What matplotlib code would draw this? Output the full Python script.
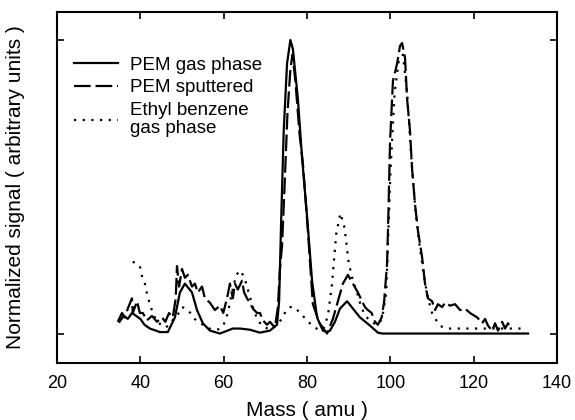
import numpy as np
import matplotlib
matplotlib.use("Agg")
import matplotlib.pyplot as plt

plt.rcParams['font.family'] = ['Liberation Sans', 'DejaVu Sans']

# PEM gas phase (solid)
gas_x = [35, 36, 37, 38, 39, 40, 41, 42.3, 44.7, 46.6, 48.3, 49.5, 50.7, 52.4, 53.6, 55, 56.7,
         59.1, 62.2, 63.9, 66.3, 68.7, 71.1, 72.8, 73.3, 73.8, 74.4, 75.2, 76, 76.6, 77.8, 78.8,
         80, 81.2, 82.4, 83.8, 84.8, 85.5, 86.7, 87.9, 89.6, 91, 92.7, 95.1, 97, 98, 133]
gas_y = [0.04, 0.06, 0.05, 0.07, 0.06, 0.05, 0.03, 0.017, 0.005, 0.005, 0.055, 0.14, 0.17, 0.14, 0.08, 0.035, 0.01,
         0.0, 0.017, 0.017, 0.013, 0.003, 0.01, 0.03, 0.11, 0.39, 0.69, 0.92, 1.0, 0.97, 0.8, 0.6,
         0.4, 0.18, 0.055, 0.01, 0.005, 0.01, 0.04, 0.085, 0.11, 0.085, 0.055, 0.027, 0.003, 0.0, 0.0]

# PEM sputtered (dashed)
sput_x = [34.6, 35.6, 36.3, 37, 38, 38.2, 39.2, 39.9, 40.6, 41.6, 42.8, 44, 45.2, 46, 46.9, 47.8,
          48.5, 48.8, 49.3, 50, 50.7, 51.4, 52.4, 53.1, 53.8, 54.8, 55.5, 56.7, 57.9, 59.1, 59.9,
          60.8, 61.5, 62.2, 62.7, 63.4, 64.4, 64.9, 65.6, 66.3, 67, 68, 68.7, 69.4, 70.4, 71.1,
          72.3, 73, 73.5, 74, 74.6, 75.3, 76, 76.5, 77.2, 78.2, 79, 80.2, 81.4, 83, 84.8, 86.2,
          87.4, 88.6, 89.8, 91, 92.2, 93.2, 93.9, 94.6, 95.5, 96.3, 97, 97.9, 98.5, 99.2, 99.5,
          99.9, 100.6, 101.6, 102.3, 102.8, 103.5, 104, 104.7, 105.2, 105.9, 106.6, 107.6, 108.3,
          109, 110, 110.7, 111.4, 112.4, 113.1, 114.3, 115.5, 116.7, 117.9, 119.1, 120.8, 122,
          122.7, 123.4, 124.4, 125.1, 125.8, 126.8, 127.5, 128.2, 129.2]
sput_y = [0.04, 0.07, 0.055, 0.085, 0.12, 0.07, 0.11, 0.07, 0.07, 0.045, 0.06, 0.04, 0.055, 0.04, 0.07, 0.055,
          0.12, 0.23, 0.16, 0.22, 0.19, 0.2, 0.16, 0.17, 0.14, 0.16, 0.12, 0.105, 0.08, 0.095, 0.07,
          0.12, 0.17, 0.12, 0.17, 0.15, 0.18, 0.14, 0.12, 0.105, 0.085, 0.07, 0.07, 0.045, 0.03, 0.04,
          0.02, 0.09, 0.22, 0.3, 0.5, 0.75, 0.9, 0.95, 0.86, 0.68, 0.58, 0.35, 0.1, 0.035, 0.0, 0.05,
          0.11, 0.17, 0.2, 0.17, 0.14, 0.11, 0.09, 0.08, 0.07, 0.04, 0.03, 0.055, 0.11, 0.24, 0.4,
          0.65, 0.86, 0.92, 0.98, 0.99, 0.94, 0.8, 0.69, 0.56, 0.44, 0.35, 0.26, 0.17,
          0.12, 0.11, 0.08, 0.1, 0.09, 0.105, 0.095, 0.1, 0.08, 0.085, 0.07, 0.055, 0.035,
          0.05, 0.027, 0.01, 0.035, 0.01, 0.04, 0.017, 0.035, 0.017]

# Ethyl benzene gas phase (dotted)
eb_x = [38.2, 39.9, 40.4, 41.1, 41.6, 42.3, 43, 44, 45, 46, 47, 48, 49, 50, 51, 52, 53, 54, 55,
        56, 57, 58, 59, 60, 61, 62, 63, 64, 65, 66, 67, 68, 69, 70, 71, 72, 73, 74, 75, 76, 77,
        78, 79, 80, 81, 82, 83, 84, 85, 86, 87, 88, 89, 90, 91, 92, 93, 94, 95, 96, 97, 98, 99,
        100, 101, 102, 103, 104, 105, 106, 107, 108, 109, 110, 111, 112, 114, 116, 118, 120,
        122, 124, 126, 128, 130, 131.5]
eb_y = [0.245, 0.23, 0.195, 0.17, 0.135, 0.1, 0.07, 0.04, 0.03, 0.02, 0.03, 0.05, 0.065, 0.09, 0.085, 0.07, 0.05, 0.04, 0.03,
        0.02, 0.015, 0.013, 0.015, 0.03, 0.07, 0.14, 0.2, 0.215, 0.19, 0.14, 0.09, 0.05, 0.03, 0.02, 0.015, 0.02, 0.035, 0.05, 0.08, 0.09, 0.09,
        0.075, 0.06, 0.045, 0.03, 0.02, 0.01, 0.02, 0.06, 0.17, 0.34, 0.41, 0.36, 0.24, 0.18, 0.14, 0.09, 0.06, 0.045, 0.035, 0.03, 0.05, 0.14,
        0.55, 0.82, 0.93, 0.95, 0.82, 0.6, 0.42, 0.3, 0.2, 0.12, 0.07, 0.045, 0.025, 0.017, 0.017, 0.017, 0.017,
        0.017, 0.017, 0.017, 0.017, 0.017, 0.017]

fig = plt.figure(figsize=(5.75, 4.2), dpi=100)
ax = fig.add_axes([0.099, 0.136, 0.870, 0.835])

lw = 1.6
ax.plot(gas_x, gas_y, color='black', lw=lw, label='PEM gas phase')
ax.plot(sput_x, sput_y, color='black', lw=lw, linestyle=(0, (7.5, 2.2)), label='PEM sputtered')
ax.plot(eb_x, eb_y, color='black', lw=lw, linestyle=(0, (1, 2.9)), label='Ethyl benzene\ngas phase')

ax.set_xlim(20, 140)
ax.set_ylim(-0.1, 1.095)
ax.set_xticks([20, 40, 60, 80, 100, 120, 140])
ax.set_yticks([0, 1])
ax.set_yticklabels([])
ax.tick_params(direction='in', length=5, width=1.2, top=True, right=True, labelsize=13, pad=9)
for s in ax.spines.values():
    s.set_linewidth(1.5)

ax.set_xlabel('Mass ( amu )', fontsize=15, labelpad=6)
ax.set_ylabel('Normalized signal ( arbitrary units )', fontsize=15, labelpad=14)

leg = ax.legend(loc='upper left', bbox_to_anchor=(0.02, 0.895), frameon=False, fontsize=13.5,
                handlelength=2.35, handletextpad=0.6, labelspacing=0.3, borderaxespad=0)
for t in leg.get_texts():
    t.set_linespacing(1.1)

fig.savefig('out.png', dpi=100)
